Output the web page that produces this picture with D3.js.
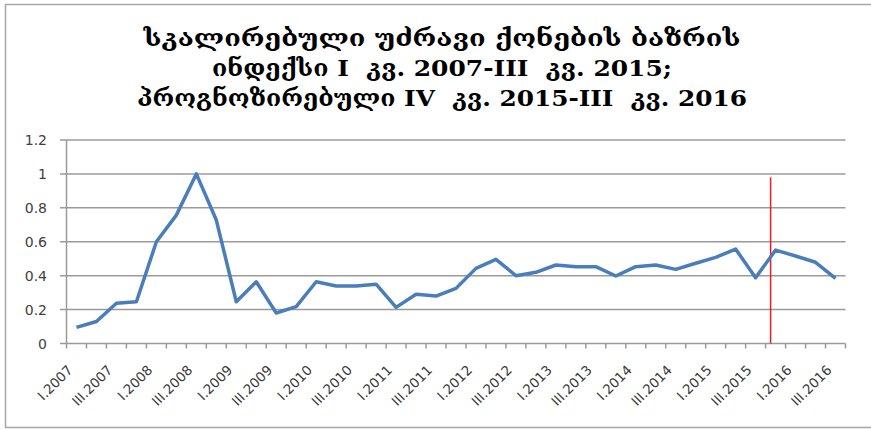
<!DOCTYPE html>
<html lang="ka">
<head>
  <meta charset="UTF-8">
  <title>სკალირებული უძრავი ქონების ბაზრის ინდექსი</title>
  <script src="https://d3js.org/d3.v7.min.js"></script>
  <style>
    body { margin: 0; background: white; }
    .title { font-family: 'DejaVu Serif', serif; font-weight: bold; font-size: 23px; fill: #000; white-space: pre; }
    .ylab { font-family: 'DejaVu Sans', sans-serif; font-size: 14px; fill: #404040; }
    .xlab { font-family: 'DejaVu Sans', sans-serif; font-size: 13.5px; fill: #3a3a3a; }
  </style>
</head>
<body>
  <svg width="871" height="429"></svg>

  <script>
    const svg = d3.select("svg");

    // The data
    const titleLines = [
      "სკალირებული უძრავი ქონების ბაზრის",
      "ინდექსი I  კვ. 2007-III  კვ. 2015;",
      "პროგნოზირებული IV  კვ. 2015-III  კვ. 2016"
    ];
    const years = [2007, 2008, 2009, 2010, 2011, 2012, 2013, 2014, 2015, 2016];
    const quarters = ["I", "II", "III", "IV"];
    const categories = [];
    years.forEach(yr => quarters.forEach(q => categories.push(q + "." + yr)));
    categories.splice(39); // series stops at III.2016

    const values = [
      0.095, 0.13, 0.237, 0.246, 0.60, 0.757, 1.0, 0.728,
      0.246, 0.364, 0.18, 0.217, 0.364, 0.339, 0.339, 0.35,
      0.213, 0.29, 0.28, 0.325, 0.443, 0.496, 0.40, 0.42,
      0.463, 0.453, 0.453, 0.398, 0.453, 0.463, 0.437, 0.473,
      0.508, 0.557, 0.388, 0.551, 0.516, 0.479, 0.384
    ];
    const yTicks = [0, 0.2, 0.4, 0.6, 0.8, 1, 1.2];
    const forecastStart = "IV.2015";
    const forecastMarkTop = 0.98;

    // chart border
    svg.append("rect")
      .attr("x", 5.5).attr("y", 4.5)
      .attr("width", 880).attr("height", 423)
      .attr("fill", "none")
      .attr("stroke", "#a6a6a6")
      .attr("stroke-width", 1.5);

    // Title
    const titleWidths = [597, 460, 610];
    svg.selectAll(".title")
      .data(titleLines)
      .enter().append("text")
      .attr("class", "title")
      .attr("x", 442)
      .attr("y", (d, i) => 46 + i * 30)
      .attr("text-anchor", "middle")
      .attr("textLength", (d, i) => titleWidths[i])
      .attr("lengthAdjust", "spacingAndGlyphs")
      .text(d => d);

    // Scales
    const x = d3.scaleBand()
      .domain(categories)
      .range([66.5, 845.5])
      .paddingInner(0).paddingOuter(0);
    const bw = x.bandwidth();
    const xMid = c => x(c) + bw / 2;

    const y = d3.scaleLinear()
      .domain([0, 1.2])
      .range([343.5, 140]);

    // grid lines + y ticks
    const grid = svg.append("g");
    grid.selectAll("line")
      .data(yTicks)
      .enter().append("line")
      .attr("x1", 60).attr("x2", 845.5)
      .attr("y1", d => y(d)).attr("y2", d => y(d))
      .attr("stroke", "#9a9a9a")
      .attr("stroke-width", 1.5);

    svg.append("line")
      .attr("x1", 66.5).attr("x2", 66.5)
      .attr("y1", y(1.2)).attr("y2", y(0))
      .attr("stroke", "#9a9a9a").attr("stroke-width", 1.5);

    svg.selectAll(".ylab")
      .data(yTicks)
      .enter().append("text")
      .attr("class", "ylab")
      .attr("x", 47)
      .attr("y", d => y(d))
      .attr("dy", "0.36em")
      .attr("text-anchor", "end")
      .text(d => d3.format("~g")(d));

    // x axis ticks between categories
    const xTickPos = categories.map(c => x(c)).concat([x(categories[categories.length - 1]) + bw]);
    svg.append("g").selectAll("line")
      .data(xTickPos)
      .enter().append("line")
      .attr("x1", d => d).attr("x2", d => d)
      .attr("y1", y(0)).attr("y2", y(0) + 5)
      .attr("stroke", "#9a9a9a").attr("stroke-width", 1.5);

    // x labels, every other category
    svg.selectAll(".xlab")
      .data(categories.filter((c, i) => i % 2 === 0))
      .enter().append("text")
      .attr("class", "xlab")
      .attr("text-anchor", "end")
      .attr("transform", d => "translate(" + (xMid(d) - 3) + "," + 371 + ") rotate(-45)")
      .text(d => d);

    // forecast marker
    const fx = xMid(forecastStart) - bw * 0.25;
    svg.append("line")
      .attr("x1", fx).attr("x2", fx)
      .attr("y1", y(forecastMarkTop)).attr("y2", y(0))
      .attr("stroke", "#ee1c25").attr("stroke-width", 1.5);

    // the series
    const line = d3.line()
      .x((d, i) => xMid(categories[i]))
      .y(d => y(d));

    svg.append("path")
      .datum(values)
      .attr("fill", "none")
      .attr("stroke", "#4a7ebb")
      .attr("stroke-width", 3.5)
      .attr("stroke-linejoin", "round")
      .attr("d", line);
  </script>
</body>
</html>
